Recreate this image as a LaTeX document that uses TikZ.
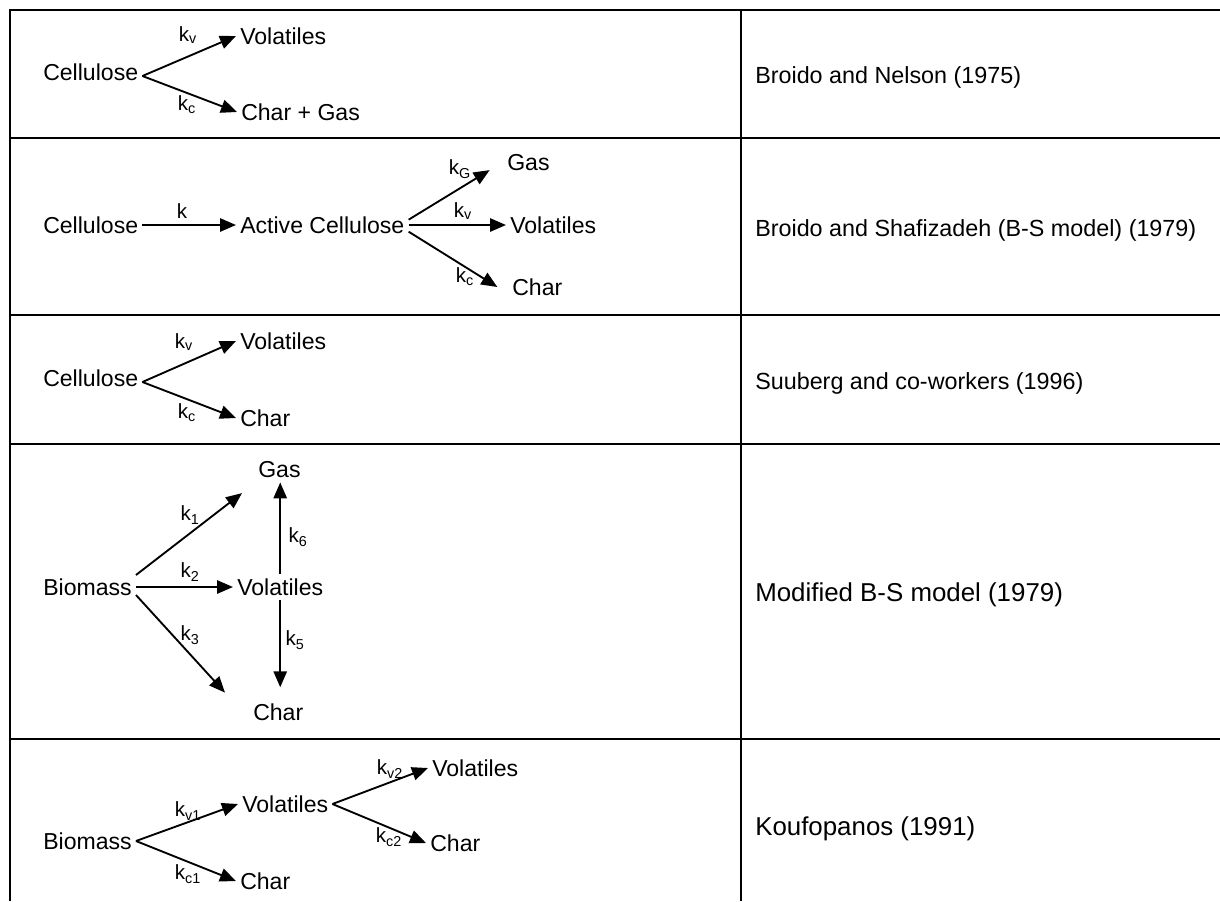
\documentclass[tikz,border=0pt]{standalone}
\usepackage{fontspec}
\setmainfont{Liberation Sans}
\usepackage{tikz}
\usetikzlibrary{arrows.meta, positioning, calc}

\begin{document}
\begin{tikzpicture}[
    x=0.75pt, y=-0.75pt,
    % Node styles
    species/.style={inner sep=3pt, anchor=west, font=\fontsize{17.3}{20}\selectfont},
    rate/.style={inner sep=0pt, font=\fontsize{15.4}{18}\selectfont},
    source/.style={inner sep=0pt, anchor=base west, font=\fontsize{17.5}{21}\selectfont},
    bigsource/.style={source, font=\fontsize{19.4}{23}\selectfont},
    rxn/.style={line width=1.4pt, -{Triangle[length=12pt, width=10pt]}},
    tabline/.style={line width=1.5pt},
]
\useasboundingbox (0,0) rectangle (1220,901);

% Table frame
\draw[tabline] (10,901) -- (10,10) -- (1220,10);
\draw[tabline] (741,10) -- (741,901);
\foreach \y in {138,315,444,739}
    \draw[tabline] (10,\y) -- (1220,\y);

% Row 1
\node[species] (cel1) at (39,72) {Cellulose};
\node[species] (vol1) at (236,36) {Volatiles};
\node[species] (chg1) at (237,112) {Char + Gas};
\draw[rxn] ([yshift=-3pt]cel1.east) -- (vol1.west);
\draw[rxn] ([yshift=-3pt]cel1.east) -- (chg1.west);
\node[rate] at (188,35) {k\textsubscript{v}};
\node[rate] at (187,105) {k\textsubscript{c}};
\node[source] at (755,83) {Broido and Nelson (1975)};

% Row 2
\node[species] (cel2) at (39,225) {Cellulose};
\node[species] (act) at (236,225) {Active Cellulose};
\node[species] (gas2) at (503,163) {Gas};
\node[species] (vol2) at (506,225) {Volatiles};
\node[species] (char2) at (508,287) {Char};
\draw[rxn] (cel2.east) -- (act.west);
\draw[rxn] ([yshift=4pt]act.east) -- ([shift={(-10pt,4pt)}]gas2.south west);
\draw[rxn] (act.east) -- (vol2.west);
\draw[rxn] ([yshift=-5pt]act.east) -- ([xshift=-8pt]char2.west);
\node[rate] at (182,211) {k};
\node[rate] at (460,169) {k\textsubscript{G}};
\node[rate] at (463,211) {k\textsubscript{v}};
\node[rate] at (465,277) {k\textsubscript{c}};
\node[source] at (755,236) {Broido and Shafizadeh (B-S model) (1979)};

% Row 3
\node[species] (cel3) at (39,378) {Cellulose};
\node[species] (vol3) at (236,341) {Volatiles};
\node[species] (char3) at (236,418) {Char};
\draw[rxn] ([yshift=-3pt]cel3.east) -- (vol3.west);
\draw[rxn] ([yshift=-3pt]cel3.east) -- (char3.west);
\node[rate] at (184,342) {k\textsubscript{v}};
\node[rate] at (187,413) {k\textsubscript{c}};
\node[source] at (755,389) {Suuberg and co-workers (1996)};

% Row 4
\node[species] (bio4) at (39,587) {Biomass};
\node[species] (gas4) at (254,470) {Gas};
\node[species] (vol4) at (233,587) {Volatiles};
\node[species] (char4) at (249,712) {Char};
\draw[rxn] ([yshift=9pt]bio4.east) -- ([shift={(-9pt,-8pt)}]gas4.south west);
\draw[rxn] (bio4.east) -- (vol4.west);
\draw[rxn] ([yshift=-6pt]bio4.east) -- ([shift={(-18pt,5pt)}]char4.north west);
\draw[rxn] (vol4.north) -- (vol4.north |- gas4.south);
\draw[rxn, shorten >=9pt] (vol4.south) -- (vol4.south |- char4.north);
\node[rate] at (190,515) {k\textsubscript{1}};
\node[rate] at (190,572) {k\textsubscript{2}};
\node[rate] at (190,635) {k\textsubscript{3}};
\node[rate] at (298,537) {k\textsubscript{6}};
\node[rate] at (295,640) {k\textsubscript{5}};
\node[bigsource] at (755,601) {Modified B-S model (1979)};

% Row 5
\node[species] (bio5) at (39,841) {Biomass};
\node[species] (vol5a) at (238,804) {Volatiles};
\node[species] (char5a) at (236,881) {Char};
\node[species] (vol5b) at (428,768) {Volatiles};
\node[species] (char5b) at (426,843) {Char};
\draw[rxn] (bio5.east) -- (vol5a.west);
\draw[rxn] (bio5.east) -- (char5a.west);
\draw[rxn] (vol5a.east) -- (vol5b.west);
\draw[rxn] (vol5a.east) -- (char5b.west);
\node[rate] at (188,811) {k\textsubscript{v1}};
\node[rate] at (188,874) {k\textsubscript{c1}};
\node[rate] at (390,769) {k\textsubscript{v2}};
\node[rate] at (389,837) {k\textsubscript{c2}};
\node[bigsource] at (755,835) {Koufopanos (1991)};

\end{tikzpicture}
\end{document}
